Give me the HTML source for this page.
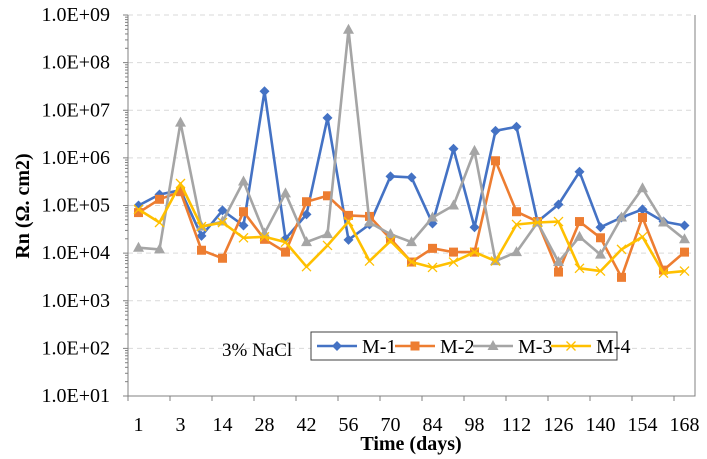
<!DOCTYPE html>
<html><head><meta charset="utf-8"><style>
html,body{margin:0;padding:0;background:#fff;}
svg{display:block;font-family:"Liberation Serif",serif;}
</style></head><body>
<svg id="chart" width="707" height="459" viewBox="0 0 707 459" xmlns="http://www.w3.org/2000/svg"></svg>
<script>
const categories=["1","","3","","14","","28","","42","","56","","70","","84","","98","","112","","126","","140","","154","","168"];
const m1=[1.0e5,1.7e5,2.1e5,2.3e4,7.9e4,3.8e4,2.5e7,2.0e4,6.5e4,6.9e6,1.9e4,4.0e4,4.1e5,3.9e5,4.2e4,1.55e6,3.5e4,3.7e6,4.5e6,4.6e4,1.05e5,5.1e5,3.5e4,5.6e4,8.3e4,4.6e4,3.8e4];
const m2=[7.1e4,1.35e5,1.95e5,1.15e4,7.8e3,7.4e4,1.95e4,1.05e4,1.2e5,1.6e5,6.2e4,5.9e4,2.0e4,6.5e3,1.26e4,1.05e4,1.05e4,8.7e5,7.4e4,4.6e4,4.0e3,4.6e4,2.1e4,3.1e3,5.6e4,4.4e3,1.05e4];
const m3=[1.3e4,1.2e4,5.5e6,3.6e4,4.6e4,3.2e5,2.6e4,1.8e5,1.7e4,2.5e4,4.9e8,4.4e4,2.5e4,1.7e4,5.6e4,1.0e5,1.4e6,6.8e3,1.05e4,4.4e4,6.5e3,2.2e4,9.3e3,5.6e4,2.3e5,4.4e4,1.95e4];
const m4=[8.3e4,4.4e4,2.9e5,3.6e4,4.4e4,2.1e4,2.2e4,1.7e4,5.2e3,1.45e4,4.6e4,6.8e3,1.8e4,6.5e3,5.0e3,6.5e3,1.05e4,6.8e3,4.0e4,4.4e4,4.6e4,4.8e3,4.2e3,1.2e4,2.2e4,3.8e3,4.2e3];
const yTickLabels=["1.0E+01","1.0E+02","1.0E+03","1.0E+04","1.0E+05","1.0E+06","1.0E+07","1.0E+08","1.0E+09"];
const seriesNames=["M-1","M-2","M-3","M-4"];

const NS="http://www.w3.org/2000/svg";
const svg=document.getElementById('chart');
const L=128,R=695,T=15,B=396;
const yMinExp=1,yMaxExp=9;
const bw=(R-L)/categories.length;
function xScale(i){return L+bw*(i+0.5);}
function yScale(v){return B-(Math.log10(v)-yMinExp)/(yMaxExp-yMinExp)*(B-T);}
function mk(tag,attrs){const e=document.createElementNS(NS,tag);for(const k in attrs)e.setAttribute(k,attrs[k]);svg.appendChild(e);return e;}

yTickLabels.forEach((lab,k)=>{
  const v=Math.pow(10,yMinExp+k);const y=yScale(v);
  if(k>0){const g=mk('line',{x1:L,x2:R,y1:y,y2:y,stroke:'#d9d9d9','stroke-dasharray':'5,4','stroke-width':1});
  
  }
  const t=mk('line',{x1:L-5,x2:L,y1:y,y2:y,stroke:'#808080','stroke-width':1});
  
  
  if(k<yTickLabels.length-1){for(let m=2;m<10;m++){const ym=yScale(v*m);
    const mt=mk('line',{x1:L-3,x2:L,y1:ym,y2:ym,stroke:'#808080','stroke-width':1});
    
    }}
  const tx=mk('text',{x:110,y:y+6,'text-anchor':'end','font-size':20,fill:'#000'});
  tx.textContent=lab;
  
  
});
const ax=mk('path',{d:`M${L},${T} L${L},${B} L${R},${B} L${R},${T}`,fill:'none',stroke:'#808080','stroke-width':1});


for(let i=0;i<categories.length;i+=2){
  const xt=L+bw*i;
  const tk=mk('line',{x1:xt,x2:xt,y1:B,y2:B+5,stroke:'#808080','stroke-width':1});
  
  
  const t=mk('text',{x:xScale(i),y:431,'text-anchor':'middle','font-size':20,fill:'#000'});
  t.textContent=categories[i];
  
  
}
const xt=mk('text',{x:411,y:450,'text-anchor':'middle','font-size':20,'font-weight':'bold',fill:'#000'});
xt.textContent='Time (days)';


const yt=mk('text',{x:0,y:0,'text-anchor':'middle','font-size':20,'font-weight':'bold',fill:'#000',transform:'translate(29,206) rotate(-90)','xml:space':'preserve'});
yt.textContent='Rn  (Ω. cm2)';



const colors=['#4472c4','#ed7d31','#a5a5a5','#ffc000'];
function marker(kind,x,y,c){
  let e;
  if(kind===0)e=mk('path',{d:`M${x},${y-5} L${x+5},${y} L${x},${y+5} L${x-5},${y}Z`,fill:c});
  else if(kind===1)e=mk('rect',{x:x-4.5,y:y-4.5,width:9,height:9,fill:c});
  else if(kind===2)e=mk('path',{d:`M${x},${y-6} L${x+5.5},${y+4} L${x-5.5},${y+4}Z`,fill:c});
  else e=mk('path',{d:`M${x-4.5},${y-4.5} L${x+4.5},${y+4.5} M${x+4.5},${y-4.5} L${x-4.5},${y+4.5}`,stroke:c,'stroke-width':1.3,fill:'none'});
  return e;
}
[m1,m2,m3,m4].forEach((data,s)=>{
  const d=data.map((v,i)=>(i?'L':'M')+xScale(i).toFixed(1)+','+yScale(v).toFixed(1)).join(' ');
  const p=mk('path',{d:d,fill:'none',stroke:colors[s],'stroke-width':2.6,'stroke-linejoin':'round'});
  
  
  data.forEach((v,i)=>{const m=marker(s,xScale(i),yScale(v),colors[s]);
    
    });
});
const lt=mk('text',{x:222,y:356,'font-size':19,fill:'#000'});
lt.textContent='3% NaCl';


const lb=mk('rect',{x:311,y:332,width:306,height:28,fill:'#fff',stroke:'#404040','stroke-width':1});


seriesNames.forEach((n,s)=>{
  const x0=317+s*78,y0=346;
  const l=mk('line',{x1:x0,x2:x0+40,y1:y0,y2:y0,stroke:colors[s],'stroke-width':2.6});
  
  
  const m=marker(s,x0+20,y0,colors[s]);
  
  
  const t=mk('text',{x:x0+45,y:y0+7,'font-size':20,fill:'#000'});
  t.textContent=n;
  
  
});
</script>
</body></html>
